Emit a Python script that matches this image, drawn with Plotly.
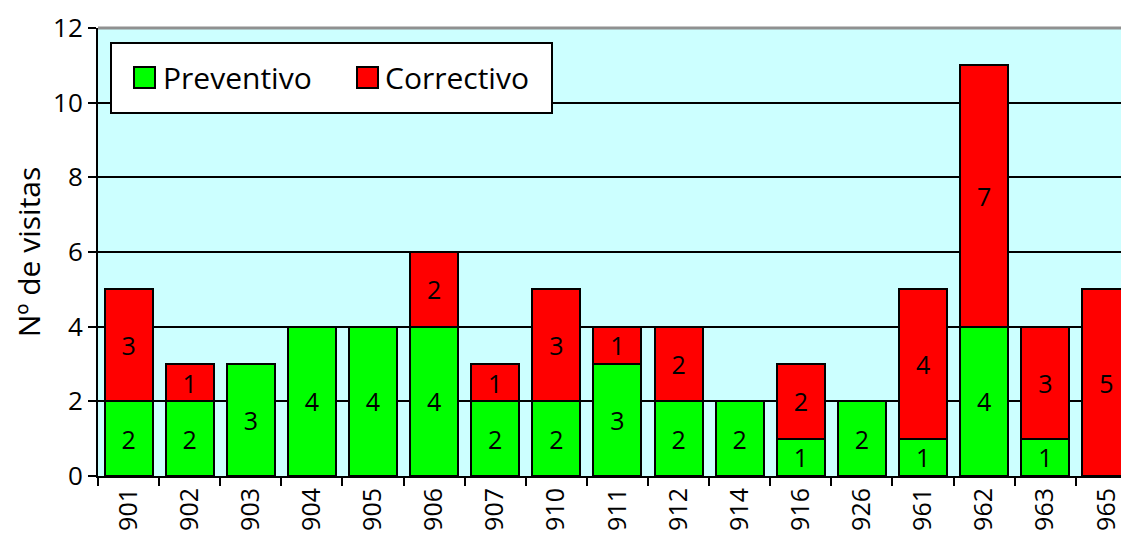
import plotly.graph_objects as go

categories = ["901", "902", "903", "904", "905", "906", "907", "910", "911",
              "912", "914", "916", "926", "961", "962", "963", "965"]
preventivo = [2, 2, 3, 4, 4, 4, 2, 2, 3, 2, 2, 1, 2, 1, 4, 1, 0]
correctivo = [3, 1, 0, 0, 0, 2, 1, 3, 1, 2, 0, 2, 0, 4, 7, 3, 5]
y_ticks = [0, 2, 4, 6, 8, 10, 12]

FONT = "Open Sans"
GREEN = "#00FF00"
RED = "#FF0000"

def labels(vals):
    return [str(v) if v else "" for v in vals]

fig = go.Figure()
fig.add_trace(go.Bar(
    x=categories, y=preventivo, name="Preventivo",
    marker=dict(color=GREEN, line=dict(color="black", width=2)),
    text=labels(preventivo), textposition="inside", insidetextanchor="middle",
    textangle=0, textfont=dict(color="black", size=25, family=FONT),
))
fig.add_trace(go.Bar(
    x=categories, y=correctivo, name="Correctivo",
    marker=dict(color=RED, line=dict(color="black", width=2)),
    text=labels(correctivo), textposition="inside", insidetextanchor="middle",
    textangle=0, textfont=dict(color="black", size=25, family=FONT),
))

# page body has an 8px margin: compensate so the plot area lands where the reference has it
fig.update_layout(
    barmode="stack", bargap=0.215,
    width=1121, height=530,
    margin=dict(l=90, r=0, t=20, b=62, pad=0),
    paper_bgcolor="white", plot_bgcolor="#CCFFFF",
    showlegend=False,
    font=dict(family=FONT, color="black", size=24),
    uniformtext=dict(minsize=25, mode="show"),
)
fig.update_xaxes(
    type="category", range=[-0.5, 16.37], automargin=False,
    tickson="boundaries", ticks="outside", ticklen=8, tickwidth=2, tickcolor="black",
    tickangle=-90, tickfont=dict(size=25, family=FONT),
    showline=True, linecolor="black", linewidth=2,
    showgrid=False,
)
fig.update_yaxes(
    range=[0, 12], tickvals=y_ticks, automargin=False,
    ticks="outside", ticklen=8, tickwidth=2, tickcolor="black",
    tickfont=dict(size=26, family=FONT),
    showline=True, linecolor="black", linewidth=2,
    showgrid=True, gridcolor="black", gridwidth=2,
    zeroline=False,
    title=dict(text="Nº de visitas", font=dict(size=30, family=FONT), standoff=10),
)

# top border (gray)
fig.add_shape(type="line", xref="paper", yref="paper", x0=0, x1=1, y0=1, y1=1,
              line=dict(color="#909090", width=3))

# custom legend (positions given in page pixels of the reference)
def px_x(p):
    return (p - 98) / (1129 - 98)

def px_y(p):
    return (476 - p) / (476 - 28)

fig.add_shape(type="rect", xref="paper", yref="paper",
              x0=px_x(111), x1=px_x(552), y0=px_y(113), y1=px_y(43),
              fillcolor="white", line=dict(color="black", width=2))
for x0, col in [(134, GREEN), (357, RED)]:
    fig.add_shape(type="rect", xref="paper", yref="paper",
                  x0=px_x(x0), x1=px_x(x0 + 21), y0=px_y(88), y1=px_y(67),
                  fillcolor=col, line=dict(color="black", width=2))
for x0, name in [(161, "Preventivo"), (383, "Correctivo")]:
    fig.add_annotation(xref="paper", yref="paper", x=px_x(x0), y=px_y(77),
                       text=name, showarrow=False, xanchor="left", yanchor="middle",
                       font=dict(size=30, family=FONT, color="black"))

fig.write_html("out.html")
